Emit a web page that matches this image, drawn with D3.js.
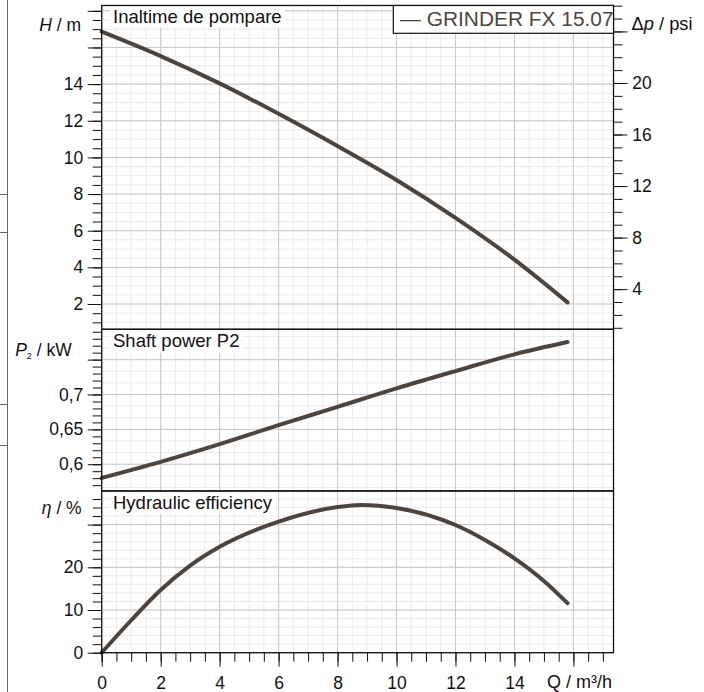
<!DOCTYPE html>
<html>
<head>
<meta charset="utf-8">
<script src="https://cdn.jsdelivr.net/npm/d3@7"></script>
<style>
  html, body { margin: 0; padding: 0; background: #fff; }
  svg { display: block; font-family: "Liberation Sans", Arial, Helvetica, sans-serif; }
</style>
</head>
<body>
<svg id="chart" width="704" height="692"></svg>
<script>
// ---------- data ----------
const qHead = [0, 2, 4, 6, 8, 10, 12, 14, 15.8];
const headM = [16.86, 15.53, 14.04, 12.38, 10.62, 8.77, 6.7, 4.42, 2.09];

const qPower = [0, 2, 4, 6, 8, 10, 12, 14, 15.8];
const powerKW = [0.5803, 0.6033, 0.6287, 0.656, 0.6823, 0.7088, 0.7336, 0.7576, 0.7752];

const qEff = [0, 1, 2, 3, 4, 6, 8, 8.8, 10, 12, 13, 14, 15, 15.8];
const effPct = [0, 7.6, 14.7, 20.4, 24.8, 30.7, 34.1, 34.6, 33.9, 29.9, 26.4, 22.1, 16.8, 11.6];

const xTickLabels = [0, 2, 4, 6, 8, 10, 12, 14];
const headTickLabels = [2, 4, 6, 8, 10, 12, 14];
const psiTickLabels = [4, 8, 12, 16, 20];
const powerTickLabels = [0.6, 0.65, 0.7];
const effTickLabels = [0, 10, 20];

const seriesName = "GRINDER FX 15.07";
const titles = ["Inaltime de pompare", "Shaft power P2", "Hydraulic efficiency"];
const M_TO_PSI = 1.4223;

// ---------- layout ----------
const svg = d3.select("#chart");
const X0 = 101.7, X1 = 613.5;
const P1 = [5.5, 329.3], P2 = [329.3, 491], P3 = [491, 652.7];
const curveColor = "#4e443e";
const font = 17.5;

const x = d3.scaleLinear().domain([0, 17.36]).range([X0, X1]);
const yH = d3.scaleLinear().domain([0.62, 18.29]).range([P1[1], P1[0]]);
const yPsi = d3.scaleLinear().domain([0.62 * M_TO_PSI, 18.29 * M_TO_PSI]).range([P1[1], P1[0]]);
const yP = d3.scaleLinear().domain([0.5616, 0.7935]).range([P2[1], P2[0]]);
const yE = d3.scaleLinear().domain([0, 37.87]).range([P3[1], P3[0]]);

function steps(a, b, s) {
  const out = [];
  const n = Math.round((b - a) / s);
  for (let i = 0; i <= n; i++) out.push(+(a + i * s).toFixed(6));
  return out;
}
function inDom(sc, vals) {
  const [a, b] = sc.domain();
  return vals.filter(v => v >= a - 1e-9 && v <= b + 1e-9);
}

// left page decoration lines
const deco = svg.append("g").attr("stroke", "#666").attr("stroke-width", 1);
deco.append("line").attr("x1", 7.5).attr("x2", 7.5).attr("y1", 0).attr("y2", 692);
[194, 232, 404, 445].forEach(yy => deco.append("line").attr("x1", 0).attr("x2", 7.5).attr("y1", yy + 0.5).attr("y2", yy + 0.5));

// ---------- grids ----------
const grid = svg.append("g");
function hGrid(sc, minor, major) {
  inDom(sc, minor).forEach(v => grid.append("line").attr("x1", X0).attr("x2", X1)
    .attr("y1", sc(v)).attr("y2", sc(v)).attr("stroke", "#ebebeb").attr("stroke-width", 1));
  inDom(sc, major).forEach(v => grid.append("line").attr("x1", X0).attr("x2", X1)
    .attr("y1", sc(v)).attr("y2", sc(v)).attr("stroke", "#c8c8c8").attr("stroke-width", 1));
}
const xMinor = inDom(x, steps(0, 17.5, 0.5));
const xMajor = inDom(x, steps(0, 18, 2));
[P1, P2, P3].forEach(p => {
  xMinor.forEach(v => grid.append("line").attr("x1", x(v)).attr("x2", x(v)).attr("y1", p[0]).attr("y2", p[1]).attr("stroke", "#ebebeb"));
});
hGrid(yH, steps(0, 18.5, 0.5), steps(0, 18, 2));
hGrid(yP, steps(0.55, 0.8, 0.05 / 3), steps(0.55, 0.8, 0.05));
hGrid(yE, steps(0, 38, 2), steps(0, 40, 10));
[P1, P2, P3].forEach(p => {
  xMajor.forEach(v => grid.append("line").attr("x1", x(v)).attr("x2", x(v)).attr("y1", p[0]).attr("y2", p[1]).attr("stroke", "#c8c8c8"));
});

// ---------- curves ----------
function drawCurve(qs, vs, sc) {
  const pts = qs.map((q, i) => ({ q, v: vs[i] }));
  svg.append("path").datum(pts)
    .attr("d", d3.line().x(d => x(d.q)).y(d => sc(d.v)).curve(d3.curveMonotoneX))
    .attr("fill", "none").attr("stroke", curveColor).attr("stroke-width", 4)
    .attr("stroke-linecap", "round").attr("stroke-linejoin", "round");
}
drawCurve(qHead, headM, yH);
drawCurve(qPower, powerKW, yP);
drawCurve(qEff, effPct, yE);

// ---------- panel titles ----------
const titleY = [22.7, 347.4, 509];
titles.forEach((t, i) => {
  const g = svg.append("g");
  const bg = g.append("rect").attr("fill", "#fff");
  const tx = g.append("text").attr("x", 113).attr("y", titleY[i])
    .attr("font-size", 18.5).attr("fill", "#111").text(t);
  const bb = tx.node().getBBox();
  bg.attr("x", bb.x - 3).attr("y", bb.y - 1).attr("width", bb.width + 6).attr("height", bb.height + 2);
});

// ---------- frames ----------
[P1, P2, P3].forEach(p => {
  svg.append("rect").attr("x", X0).attr("y", p[0]).attr("width", X1 - X0).attr("height", p[1] - p[0])
    .attr("fill", "none").attr("stroke", "#111").attr("stroke-width", 1.3);
});

// ---------- axes ----------
function styleAxis(g) {
  g.select(".domain").remove();
  g.selectAll(".tick line").attr("stroke", "#111");
  g.selectAll(".tick text").attr("fill", "#111").attr("font-size", font).attr("font-family", null);
}
function leftAxis(sc, minorStep, majorVals, labelVals, fmt) {
  const [a, b] = sc.domain();
  const minor = inDom(sc, steps(Math.floor(a / minorStep) * minorStep, b, minorStep));
  svg.append("g").attr("transform", `translate(${X0},0)`)
    .call(d3.axisLeft(sc).tickValues(minor).tickSize(9).tickFormat(""))
    .call(styleAxis);
  svg.append("g").attr("transform", `translate(${X0},0)`)
    .call(d3.axisLeft(sc).tickValues(inDom(sc, majorVals)).tickSize(14).tickPadding(4.4)
      .tickFormat(v => labelVals.some(l => Math.abs(l - v) < 1e-9) ? fmt(v) : ""))
    .call(styleAxis);
}
leftAxis(yH, 0.5, steps(0, 18, 2), headTickLabels, v => String(v));
leftAxis(yP, 0.01, steps(0.55, 0.8, 0.05), powerTickLabels, v => String(+v.toFixed(2)).replace(".", ","));
leftAxis(yE, 2, steps(0, 40, 10), effTickLabels, v => String(v));

// right psi axis
svg.append("g").attr("transform", `translate(${X1},0)`)
  .call(d3.axisRight(yPsi).tickValues(inDom(yPsi, steps(1, 27, 1))).tickSize(9).tickFormat(""))
  .call(styleAxis);
svg.append("g").attr("transform", `translate(${X1},0)`)
  .call(d3.axisRight(yPsi).tickValues(inDom(yPsi, steps(4, 28, 4))).tickSize(14).tickPadding(4.8)
    .tickFormat(v => psiTickLabels.includes(v) ? String(v) : ""))
  .call(styleAxis);

// bottom Q axis
svg.append("g").attr("transform", `translate(0,${P3[1]})`)
  .call(d3.axisBottom(x).tickValues(xMinor.concat([0])).tickSize(9).tickFormat(""))
  .call(styleAxis);
svg.append("g").attr("transform", `translate(0,${P3[1]})`)
  .call(d3.axisBottom(x).tickValues(xMajor).tickSize(14).tickPadding(9.5)
    .tickFormat(v => xTickLabels.includes(v) ? String(v) : ""))
  .call(styleAxis);

// ---------- axis unit labels ----------
function unitLabel(xp, yp, anchor, parts, fs) {
  const t = svg.append("text").attr("x", xp).attr("y", yp).attr("text-anchor", anchor)
    .attr("font-size", fs || font).attr("fill", "#111");
  parts.forEach(p => {
    const s = t.append("tspan").text(p.t);
    if (p.i) s.attr("font-style", "italic");
    if (p.fs) s.attr("font-size", p.fs);
    if (p.dy) s.attr("dy", p.dy);
  });
}
unitLabel(81, 30.7, "end", [{ t: "H", i: true }, { t: " / m" }]);
unitLabel(71.7, 355.5, "end", [{ t: "P", i: true }, { t: "2", fs: 9, dy: 3 }, { t: " / kW", dy: -3 }]);
unitLabel(81.7, 514, "end", [{ t: "η", i: true }, { t: " / %" }]);
unitLabel(631.5, 30, "start", [{ t: "Δ" }, { t: "p", i: true }, { t: " / psi" }], 18.3);
unitLabel(612, 688.3, "end", [{ t: "Q / m³/h" }], 18);

// ---------- legend ----------
svg.append("rect").attr("x", 393.3).attr("y", P1[0]).attr("width", X1 - 393.3).attr("height", 27.8)
  .attr("fill", "#fff").attr("stroke", "#111").attr("stroke-width", 1.2);
svg.append("text").attr("x", 400).attr("y", 25.5).attr("font-size", 20.9)
  .attr("fill", curveColor).text("— " + seriesName);
</script>
</body>
</html>
